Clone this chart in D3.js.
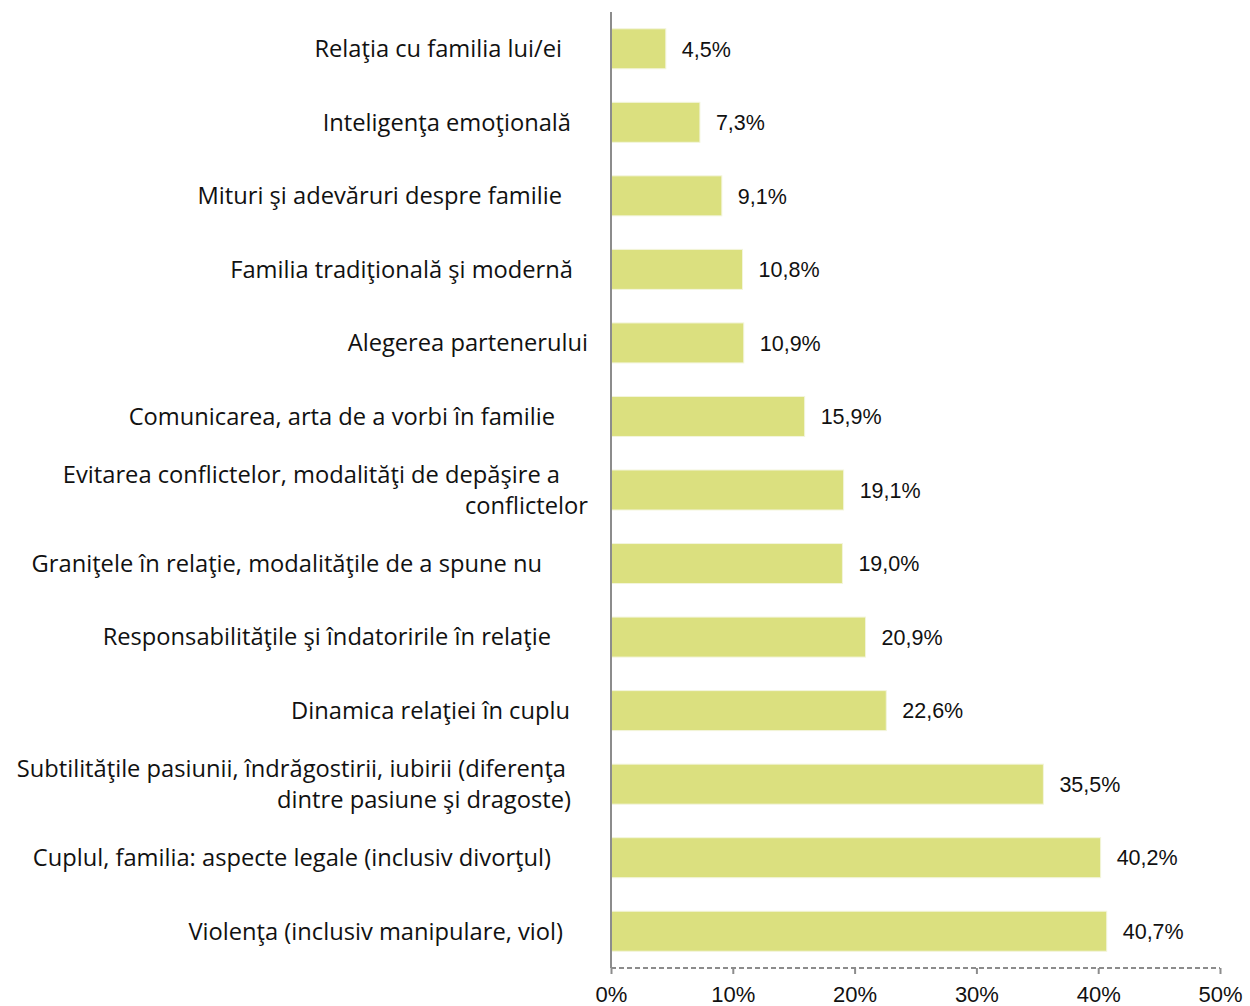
<!DOCTYPE html>
<html>
<head>
<meta charset="utf-8">
<script src="https://cdn.jsdelivr.net/npm/d3@7"></script>
<style>
  html, body { margin: 0; padding: 0; background: #fff; }
  .cat { font-family: "Open Sans", Lato, sans-serif; font-size: 23.7px; fill: #111; }
  .val, .tick-lbl { font-family: "Liberation Sans", Arial, sans-serif; font-size: 21.5px; fill: #111; }
</style>
</head>
<body>
<svg id="chart" width="1250" height="1006"></svg>
<script>
// categories, top to bottom (multi-line labels split on "\n")
const categories = [
  "Relaţia cu familia lui/ei",
  "Inteligenţa emoţională",
  "Mituri şi adevăruri despre familie",
  "Familia tradiţională şi modernă",
  "Alegerea partenerului",
  "Comunicarea, arta de a vorbi în familie",
  "Evitarea conflictelor, modalităţi de depăşire a\nconflictelor",
  "Graniţele în relaţie, modalităţile de a spune nu",
  "Responsabilităţile şi îndatoririle în relaţie",
  "Dinamica relaţiei în cuplu",
  "Subtilităţile pasiunii, îndrăgostirii, iubirii (diferenţa\ndintre pasiune şi dragoste)",
  "Cuplul, familia: aspecte legale (inclusiv divorţul)",
  "Violenţa (inclusiv manipulare, viol)"
];
const values = [4.5, 7.3, 9.1, 10.8, 10.9, 15.9, 19.1, 19.0, 20.9, 22.6, 35.5, 40.2, 40.7];
const valueLabels = ["4,5%", "7,3%", "9,1%", "10,8%", "10,9%", "15,9%", "19,1%", "19,0%",
                     "20,9%", "22,6%", "35,5%", "40,2%", "40,7%"];
const tickValues = [0, 10, 20, 30, 40, 50];
const tickLabels = ["0%", "10%", "20%", "30%", "40%", "50%"];

// layout: the labels in the original are pasted in with ragged right edges
const labelRight = [[562], [571], [562], [573], [588], [555], [560, 588], [542], [551], [570], [566, 571], [551], [563]];

const svg = d3.select("#chart");
const x = d3.scaleLinear().domain([0, 50]).range([611, 1220]);
const y = d3.scaleBand().domain(d3.range(categories.length)).range([12, 968]).paddingInner(0.456).paddingOuter(0.228);

// bars
svg.append("g").selectAll("rect").data(values).join("rect")
  .attr("x", x(0))
  .attr("y", (d, i) => y(i))
  .attr("width", d => x(d) - x(0))
  .attr("height", y.bandwidth())
  .attr("fill", "#dbe07f")
  .attr("stroke", "#f3f5dc")
  .attr("stroke-width", 1);

// value labels
svg.append("g").selectAll("text").data(values).join("text")
  .attr("class", "val")
  .attr("x", d => x(d) + 16)
  .attr("y", (d, i) => y(i) + y.bandwidth() / 2)
  .attr("dy", "0.36em")
  .text((d, i) => valueLabels[i]);

// category labels
const lineGap = 31;
svg.append("g").selectAll("text").data(categories).join("text")
  .attr("class", "cat")
  .attr("text-anchor", "end")
  .each(function (d, i) {
    const lines = d.split("\n");
    const cy = y(i) + y.bandwidth() / 2;
    const top = cy - (lines.length - 1) * lineGap / 2;
    d3.select(this).selectAll("tspan").data(lines).join("tspan")
      .attr("x", (l, j) => labelRight[i][j])
      .attr("y", (l, j) => top + j * lineGap)
      .attr("dy", "0.35em")
      .text(l => l);
  });

// bottom axis: dashed baseline with downward ticks
const axis = svg.append("g").attr("transform", "translate(0,968)")
  .call(d3.axisBottom(x).tickValues(tickValues).tickSize(6).tickPadding(12)
    .tickFormat((d, i) => tickLabels[i]));
axis.select(".domain").attr("stroke", "#8c8c8c").attr("stroke-width", 2)
  .attr("stroke-dasharray", "5,3").attr("d", `M${x(0)},0H${x(50)}`);
axis.selectAll(".tick line").attr("stroke", "#8c8c8c").attr("stroke-width", 2);
axis.selectAll(".tick text").attr("class", "tick-lbl").attr("fill", "#111")
  .style("font-family", "'Liberation Sans', Arial, sans-serif").style("font-size", "22px");

// vertical category axis line
svg.append("line")
  .attr("x1", x(0)).attr("x2", x(0))
  .attr("y1", 12).attr("y2", 968)
  .attr("stroke", "#8c8c8c").attr("stroke-width", 2);
</script>
</body>
</html>
